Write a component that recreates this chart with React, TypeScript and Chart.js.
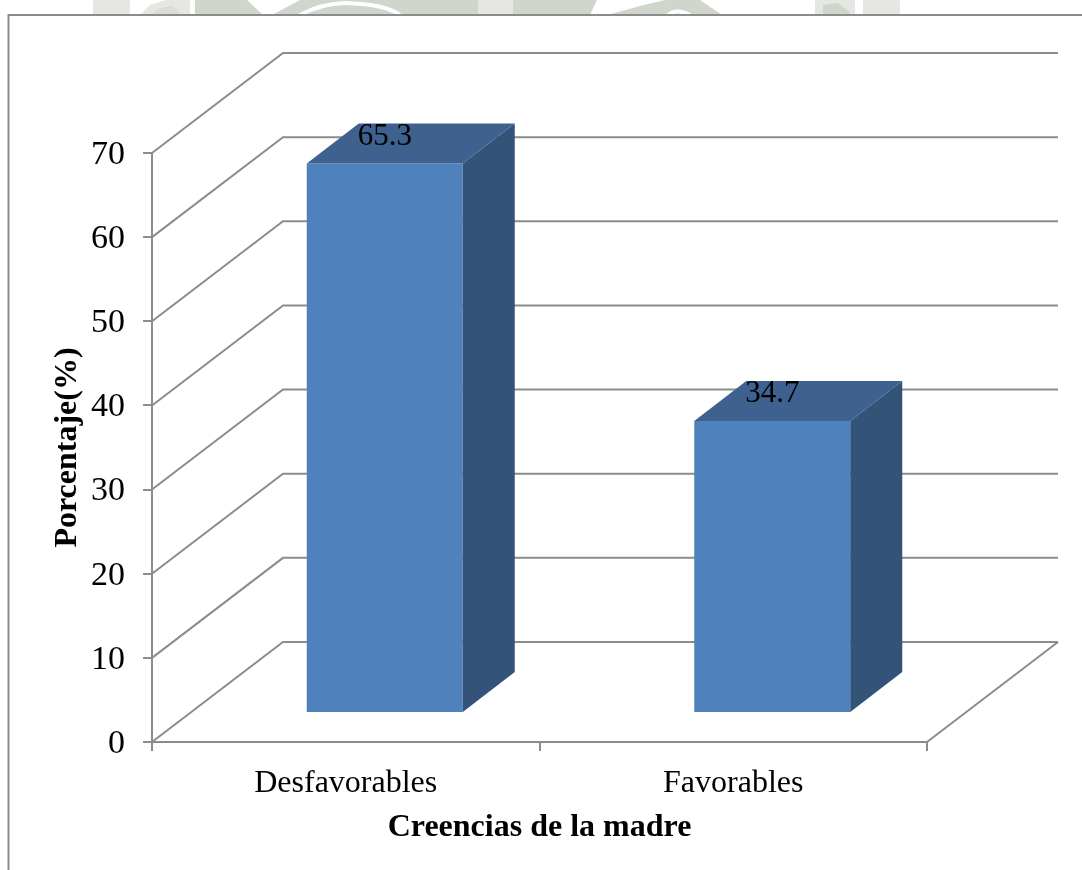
import React, { useEffect, useRef } from "react";
import { Chart, registerables } from "chart.js";

Chart.register(...registerables);

const categories = ["Desfavorables", "Favorables"];
const porcentajes = [65.3, 34.7];
const yTicks = [0, 10, 20, 30, 40, 50, 60, 70];
const yTitle = "Porcentaje(%)";
const xTitle = "Creencias de la madre";

const FONT = '"Liberation Serif"';
const LINE = "#8c8c8c";
const FRONT = "#4f81bd";
const SIDE = "#335379";
const TOP = "#3e6190";
const WALL_DX = 131;
const WALL_DY = 100;
const BAR_DX = 39;
const BAR_DY = 29;
const DEPTH_DX = 52;
const DEPTH_DY = 40;

const GREEN = "#d0d6cb";
const PALE = "#e5e7e3";

function poly(ctx: CanvasRenderingContext2D, pts: number[][], fill: string) {
  ctx.beginPath();
  pts.forEach((p, i) => (i ? ctx.lineTo(p[0], p[1]) : ctx.moveTo(p[0], p[1])));
  ctx.closePath();
  ctx.fillStyle = fill;
  ctx.fill();
}

const decorPlugin = {
  id: "decor",
  beforeDraw(chart: any) {
    const ctx: CanvasRenderingContext2D = chart.ctx;
    ctx.save();
    ctx.fillStyle = "#ffffff";
    ctx.fillRect(0, 0, chart.width, chart.height);
    // faint watermark left over above the frame
    poly(ctx, [[93, 0], [130, 0], [130, 15], [93, 15]], PALE);
    poly(ctx, [[140, 15], [150, 5], [165, 0], [190, 0], [190, 15]], PALE);
    poly(ctx, [[150, 15], [160, 8], [172, 6], [182, 15]], "#d9ddd6");
    poly(ctx, [[195, 0], [247, 0], [263, 15], [195, 15]], GREEN);
    poly(ctx, [[272, 15], [300, 0], [597, 0], [590, 15]], GREEN);
    poly(ctx, [[478, 0], [513, 0], [513, 15], [478, 15]], PALE);
    poly(ctx, [[607, 15], [640, 6], [665, 0], [700, 0], [722, 15]], GREEN);
    poly(ctx, [[815, 0], [855, 0], [855, 15], [815, 15]], PALE);
    poly(ctx, [[823, 5], [838, 3], [850, 12], [848, 15], [823, 15]], GREEN);
    poly(ctx, [[863, 0], [900, 0], [900, 15], [863, 15]], PALE);
    ctx.strokeStyle = "#ffffff";
    ctx.lineWidth = 4;
    ctx.beginPath();
    ctx.moveTo(300, 15);
    ctx.quadraticCurveTo(320, 4, 345, 3);
    ctx.quadraticCurveTo(385, 4, 400, 15);
    ctx.moveTo(668, 15);
    ctx.quadraticCurveTo(676, 8, 690, 15);
    ctx.stroke();
    // frame
    ctx.fillStyle = "#ffffff";
    ctx.fillRect(8, 15, chart.width, chart.height);
    ctx.strokeStyle = LINE;
    ctx.lineWidth = 2;
    ctx.beginPath();
    ctx.moveTo(8.5, chart.height);
    ctx.lineTo(8.5, 15);
    ctx.lineTo(chart.width, 15);
    ctx.stroke();
    ctx.restore();
  },
  beforeDatasetsDraw(chart: any) {
    const ctx: CanvasRenderingContext2D = chart.ctx;
    const y = chart.scales.y;
    const { left, right, bottom } = chart.chartArea;
    ctx.save();
    ctx.strokeStyle = LINE;
    ctx.lineWidth = 2;
    ctx.beginPath();
    yTicks.forEach((v) => {
      const py = y.getPixelForValue(v);
      ctx.moveTo(left, py);
      ctx.lineTo(left + WALL_DX, py - WALL_DY);
      ctx.lineTo(right + WALL_DX, py - WALL_DY);
    });
    ctx.moveTo(right, bottom);
    ctx.lineTo(right + WALL_DX, bottom - WALL_DY);
    ctx.stroke();
    ctx.restore();
    ctx.save();
    ctx.translate(BAR_DX, -BAR_DY);
  },
  afterDatasetsDraw(chart: any) {
    const ctx: CanvasRenderingContext2D = chart.ctx;
    ctx.restore();
    const bars = chart.getDatasetMeta(0).data;
    ctx.save();
    bars.forEach((b: any, i: number) => {
      const l = b.x + BAR_DX - b.width / 2;
      const r = b.x + BAR_DX + b.width / 2;
      const t = b.y - BAR_DY;
      const base = b.base - BAR_DY;
      poly(ctx, [[r, t], [r + DEPTH_DX, t - DEPTH_DY], [r + DEPTH_DX, base - DEPTH_DY], [r, base]], SIDE);
      poly(ctx, [[l, t], [l + DEPTH_DX, t - DEPTH_DY], [r + DEPTH_DX, t - DEPTH_DY], [r, t]], TOP);
      ctx.fillStyle = "#000000";
      ctx.font = `31px ${FONT}`;
      ctx.textAlign = "center";
      ctx.textBaseline = "middle";
      ctx.fillText(porcentajes[i].toFixed(1), b.x + BAR_DX, t - 27);
    });
    ctx.restore();
  },
};

export default function App() {
  const ref = useRef<HTMLCanvasElement>(null);
  useEffect(() => {
    const chart = new Chart(ref.current as HTMLCanvasElement, {
      type: "bar",
      data: {
        labels: categories,
        datasets: [
          {
            data: porcentajes,
            backgroundColor: FRONT,
            barPercentage: 0.4026,
            categoryPercentage: 1,
            clip: false,
          } as any,
        ],
      },
      plugins: [decorPlugin as any],
      options: {
        responsive: false,
        animation: false,
        layout: { padding: { top: 153, right: 155, left: 0, bottom: 0 } },
        plugins: { legend: { display: false }, tooltip: { enabled: false }, title: { display: false } },
        scales: {
          x: {
            type: "category",
            afterFit(s: any) {
              s.height = 128;
            },
            grid: {
              offset: true,
              drawOnChartArea: false,
              drawTicks: true,
              tickLength: 9,
              color: LINE,
              lineWidth: 2,
            },
            border: { color: LINE, width: 2 },
            ticks: {
              color: "#000000",
              font: { family: FONT, size: 32 },
              maxRotation: 0,
              autoSkip: false,
              padding: 13,
            },
            title: {
              display: true,
              text: xTitle,
              color: "#000000",
              font: { family: FONT, size: 32, weight: "bold" },
              padding: { top: 0, bottom: 23 },
            },
          },
          y: {
            type: "linear",
            min: 0,
            max: 70,
            afterFit(s: any) {
              s.width = 152;
            },
            afterBuildTicks(s: any) {
              s.ticks = yTicks.map((value) => ({ value }));
            },
            grid: {
              drawOnChartArea: false,
              drawTicks: true,
              tickLength: 9,
              color: LINE,
              lineWidth: 2,
            },
            border: { color: LINE, width: 2 },
            ticks: {
              color: "#000000",
              font: { family: FONT, size: 34 },
              padding: 18,
              labelOffset: 2,
            },
            title: {
              display: true,
              text: yTitle,
              color: "#000000",
              font: { family: FONT, size: 32, weight: "bold" },
              padding: { top: 49, bottom: 0 },
            },
          },
        },
      } as any,
    });
    return () => chart.destroy();
  }, []);
  return (
    <canvas
      ref={ref}
      width={1082}
      height={870}
      style={{ position: "absolute", left: 0, top: 0, display: "block" }}
    />
  );
}
